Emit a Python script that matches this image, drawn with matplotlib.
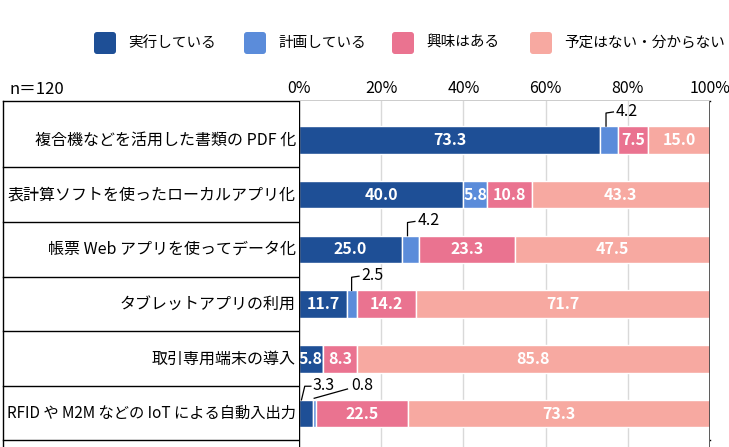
import numpy as np
import matplotlib
matplotlib.use("Agg")
import matplotlib.pyplot as plt
from matplotlib.patches import FancyBboxPatch

plt.rcParams['font.family'] = ['Noto Sans CJK JP', 'DejaVu Sans']

categories = ['複合機などを活用した書類の PDF 化',
              '表計算ソフトを使ったローカルアプリ化',
              '帳票 Web アプリを使ってデータ化',
              'タブレットアプリの利用',
              '取引専用端末の導入',
              'RFID や M2M などの IoT による自動入出力']
series_names = ['実行している', '計画している', '興味はある', '予定はない・分からない']
jikkou = [73.3, 40.0, 25.0, 11.7, 5.8, 3.3]
keikaku = [4.2, 5.8, 4.2, 2.5, 0.0, 0.8]
kyoumi = [7.5, 10.8, 23.3, 14.2, 8.3, 22.5]
yotei = [15.0, 43.3, 47.5, 71.7, 85.8, 73.3]
tick_vals = [0, 20, 40, 60, 80, 100]
n_label = 'n＝120'

colors = ['#1E4F96', '#5B8CDA', '#EA7390', '#F7A9A1']

fig = plt.figure(figsize=(7.29, 4.47), dpi=100)
W, H = 729, 447
ax = fig.add_axes([299 / W, 0, 411 / W, 1 - 101 / H])

data = np.array([jikkou, keikaku, kyoumi, yotei])
y = np.arange(len(categories))
left = np.zeros(len(categories))
for i, vals in enumerate(data):
    ax.barh(y, vals, left=left, height=0.5, color=colors[i],
            edgecolor='white', linewidth=1, zorder=3)
    for j, v in enumerate(vals):
        if v >= 5:
            ax.text(left[j] + v / 2, y[j], f'{v:.1f}', ha='center', va='center',
                    color='white', fontsize=11.5, fontweight='bold', zorder=4)
    left = left + vals

# outside labels with leader lines
def leader(x0, row, text):
    yb = row - 0.25
    ax.plot([x0, x0, x0 + 1.8], [yb, yb - 0.24, yb - 0.26], color='black',
            lw=0.9, zorder=5, clip_on=False)
    ax.text(x0 + 1.8 + 0.6, yb - 0.27, text, ha='left', va='center',
            fontsize=11.5, zorder=5)

cum_j = np.array(jikkou)
leader(cum_j[0] + 1.4, 0, f'{keikaku[0]:.1f}')
leader(cum_j[2] + 1.4, 2, f'{keikaku[2]:.1f}')
leader(cum_j[3] + 1.1, 3, f'{keikaku[3]:.1f}')
# last row: two small segments
yb = 5 - 0.25
ax.plot([0.6, 1.4, 2.9], [yb, yb - 0.25, yb - 0.25], color='black', lw=0.9, zorder=5)
ax.text(3.4, yb - 0.26, f'{jikkou[5]:.1f}', ha='left', va='center', fontsize=11.5, zorder=5)
xm = jikkou[5] + keikaku[5] / 2
ax.plot([xm, 11.8], [yb - 0.03, yb - 0.2], color='black', lw=0.9, zorder=5)
ax.text(12.6, yb - 0.26, f'{keikaku[5]:.1f}', ha='left', va='center', fontsize=11.5, zorder=5)

ax.set_xlim(0, 100)
ax.set_ylim(5.61, -0.71)
ax.set_xticks(tick_vals)
ax.set_xticklabels([f'{t}%' for t in tick_vals], fontsize=11.5)
ax.xaxis.tick_top()
ax.tick_params(axis='x', length=0, pad=3)
ax.set_yticks([])
for t in tick_vals[1:-1]:
    ax.axvline(t, color='#D9D9D9', lw=1, zorder=1)
ax.axvline(0, color='black', lw=1, zorder=4)
ax.axvline(100, color='#404040', lw=1.2, zorder=4)
for s in ax.spines.values():
    s.set_visible(False)

# table lines and row labels on the left
fig_ax = fig.add_axes([0, 0, 1, 1], zorder=-1)
fig_ax.set_xlim(0, W)
fig_ax.set_ylim(H, 0)
fig_ax.axis('off')
fig_ax.plot([3, 710], [101, 101], color='black', lw=1)
fig_ax.plot([3, 710], [440, 440], color='black', lw=1)
fig_ax.plot([3, 3], [101, 447], color='black', lw=1)
pitch = 54.7
for k in range(1, len(categories)):
    yy = 140 + (k - 0.5) * pitch
    fig_ax.plot([3, 299], [yy, yy], color='black', lw=1)
for k, cat in enumerate(categories):
    fs = 11 if k == len(categories) - 1 else 11.5
    fig_ax.text(296, 140 + k * pitch, cat, ha='right', va='center', fontsize=fs)
fig_ax.text(10, 90, n_label, ha='left', va='center', fontsize=12)

# legend
leg_x = [94, 244, 392, 530]
for lx, name, c in zip(leg_x, series_names, colors):
    fig_ax.add_patch(FancyBboxPatch((lx + 3, 35), 16, 16,
                                    boxstyle='round,pad=3', fc=c, ec='none'))
    fig_ax.text(lx + 34, 43, name, ha='left', va='center', fontsize=10.5)

fig.savefig('out.png', dpi=100)
